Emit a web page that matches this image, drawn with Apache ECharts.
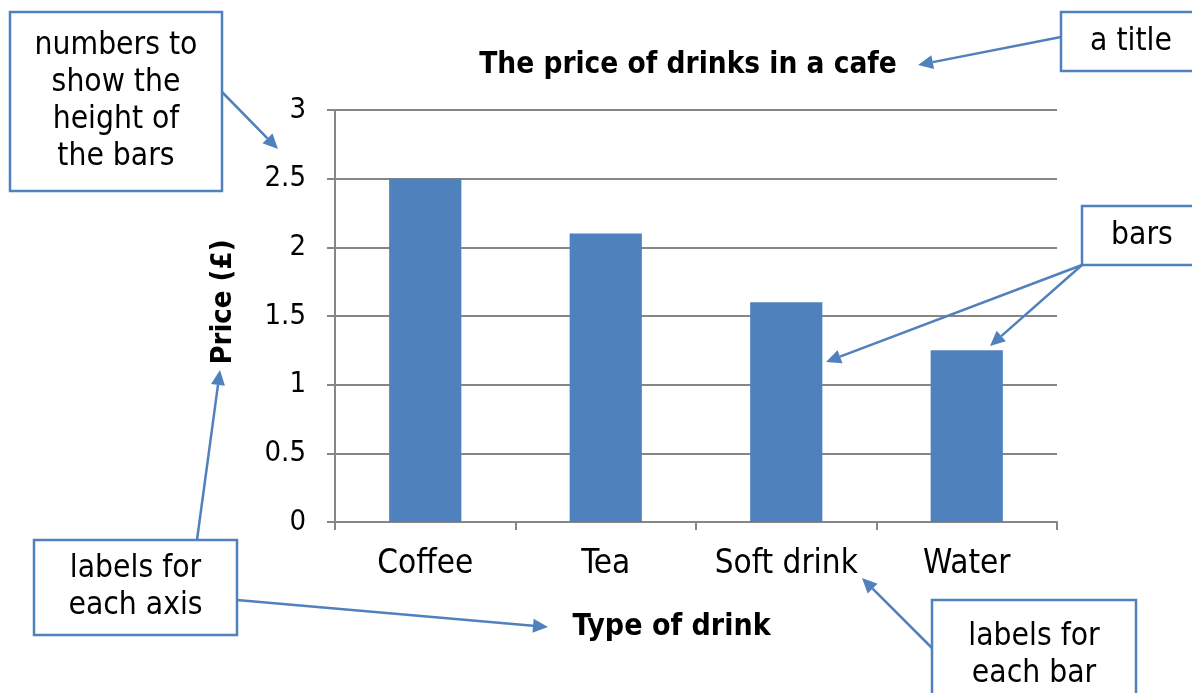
<!DOCTYPE html>
<html><head><meta charset="utf-8">
<script src="https://cdn.jsdelivr.net/npm/echarts@6/dist/echarts.min.js"></script>
<style>html,body{margin:0;padding:0;background:#fff}#c{width:1192px;height:693px}</style>
</head><body><div id="c"></div>
<script>
const categories = ['Coffee', 'Tea', 'Soft drink', 'Water'];
const prices = [2.5, 2.1, 1.6, 1.25];
const titleText = 'The price of drinks in a cafe';
const xName = 'Type of drink';
const yName = 'Price (£)';

const BLUE = '#4f81bd';
const GRAY = '#868686';
const FONT = '"DejaVu Sans Condensed", "Open Sans", sans-serif';

function box(x, y, w, h, text) {
  return {
    type: 'group', children: [
      { type: 'rect', shape: { x: x, y: y, width: w, height: h },
        style: { fill: '#fff', stroke: BLUE, lineWidth: 2.5 }, z: 10 },
      { type: 'text', x: x + w / 2, y: y + h / 2, z: 11,
        style: { text: text, fill: '#000', font: '31.5px ' + FONT, align: 'center', verticalAlign: 'middle', lineHeight: 37 } }
    ]
  };
}
function arrow(x1, y1, x2, y2) {
  const a = Math.atan2(y2 - y1, x2 - x1), L = 15, W = 7;
  const bx = x2 - L * Math.cos(a), by = y2 - L * Math.sin(a);
  const px = -Math.sin(a) * W, py = Math.cos(a) * W;
  return [
    { type: 'line', shape: { x1: x1, y1: y1, x2: bx, y2: by }, style: { stroke: BLUE, lineWidth: 2.5 }, z: 9 },
    { type: 'polygon', shape: { points: [[x2, y2], [bx + px, by + py], [bx - px, by - py]] }, style: { fill: BLUE }, z: 9 }
  ];
}

const graphics = [].concat(
  arrow(222, 92, 278, 149),
  arrow(1061, 37, 918, 65),
  arrow(1082, 265, 826, 362),
  arrow(1082, 265, 990, 346),
  arrow(197, 540, 220, 370),
  arrow(237, 600, 548, 627),
  arrow(932, 648, 862, 578),
  [
    box(10, 12, 212, 179, 'numbers to\nshow the\nheight of\nthe bars'),
    box(1061, 12, 140, 59, 'a title'),
    box(1082, 206, 120, 59, 'bars'),
    box(34, 540, 203, 95, 'labels for\neach axis'),
    box(932, 600, 204, 110, 'labels for\neach bar')
  ]
);

const chart = echarts.init(document.getElementById('c'), null, { renderer: 'canvas' });
chart.setOption({
  animation: false,
  title: { text: titleText, left: 683, top: 45, textAlign: 'center',
    textStyle: { fontFamily: FONT, fontWeight: 'bold', fontSize: 29.5, color: '#000' } },
  grid: { left: 335, right: 135, top: 110, bottom: 171, containLabel: false },
  xAxis: {
    type: 'category', data: categories,
    name: xName, nameLocation: 'middle', nameGap: 90,
    nameTextStyle: { fontFamily: FONT, fontWeight: 'bold', fontSize: 30, color: '#000', padding: [0, 49, 0, 0] },
    axisLine: { lineStyle: { color: GRAY, width: 2 } },
    axisTick: { show: true, interval: 0, alignWithLabel: false, length: 8, lineStyle: { color: GRAY, width: 2 } },
    axisLabel: { interval: 0, hideOverlap: false, margin: 26, fontFamily: FONT, fontSize: 33, color: '#000' }
  },
  yAxis: {
    type: 'value', min: 0, max: 3, interval: 0.5,
    name: yName, nameLocation: 'middle', nameGap: 97, nameRotate: 90,
    nameTextStyle: { fontFamily: FONT, fontWeight: 'bold', fontSize: 29, color: '#000', padding: [0, 0, 0, 28] },
    axisLine: { show: true, lineStyle: { color: GRAY, width: 2 } },
    axisTick: { show: true, length: 8, lineStyle: { color: GRAY, width: 2 } },
    axisLabel: { margin: 29, fontFamily: FONT, fontSize: 29, color: '#000' },
    splitLine: { show: true, lineStyle: { color: GRAY, width: 2 } }
  },
  series: [{
    type: 'bar', data: prices, barWidth: '40%',
    itemStyle: { color: BLUE }
  }],
  graphic: graphics
});
</script>
</body></html>
